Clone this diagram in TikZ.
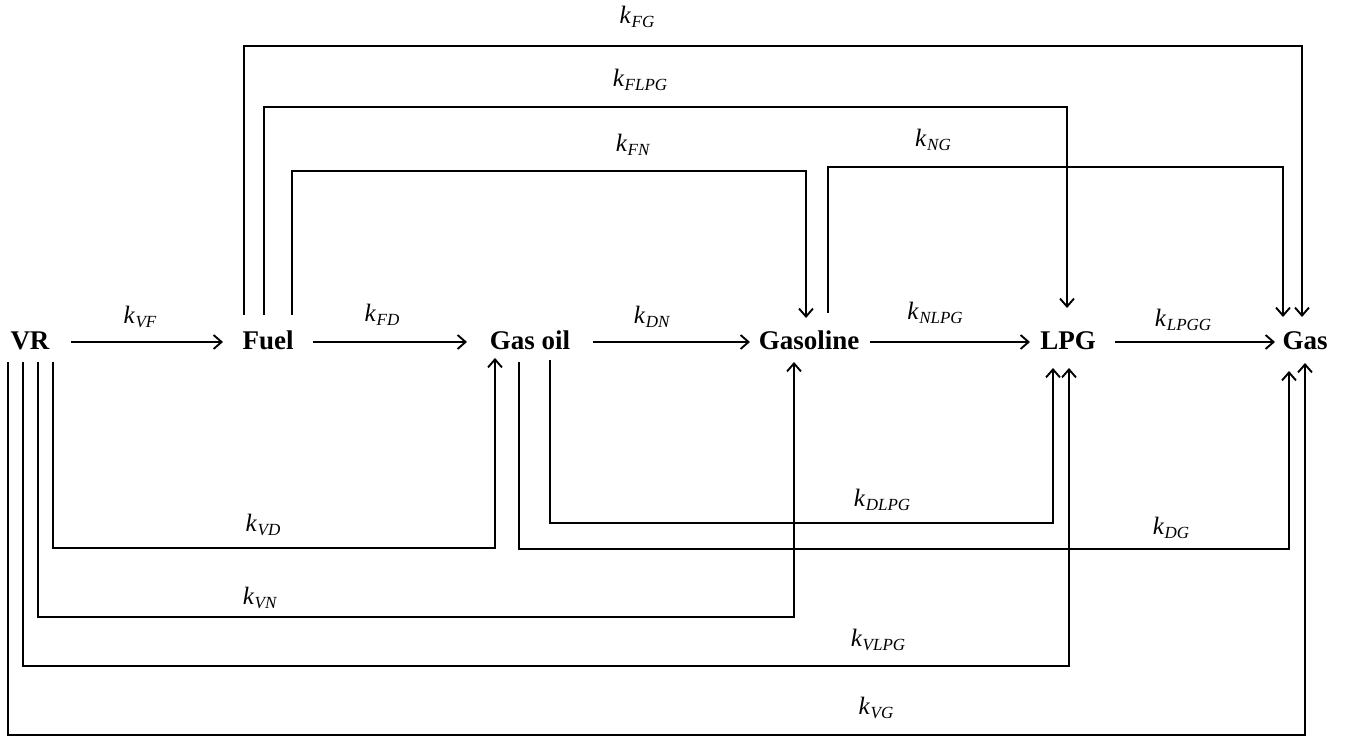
\documentclass[tikz,border=0pt]{standalone}
\usepackage{fontspec}
\setmainfont{Liberation Serif}
\usetikzlibrary{arrows.meta}
\newcommand{\kl}[1]{\textit{k}\kern0.5pt\raisebox{-4pt}{\fontsize{17}{17}\selectfont\textit{#1}}}
\begin{document}
\begin{tikzpicture}[x=1pt,y=1pt,
  species/.style={font=\fontsize{27}{27}\selectfont\bfseries, inner sep=0pt, anchor=base},
  rate/.style={font=\fontsize{25}{25}\selectfont, inner sep=0pt},
  flow/.style={line width=1.9pt, -{Straight Barb[length=8pt,width=14pt]}, line join=miter},
]
\useasboundingbox (0,0) rectangle (1347,738);
% species
\node[species] (VR) at (30,388) {VR};
\node[species] (Fuel) at (268,388) {Fuel};
\node[species] (Gasoil) at (530,388) {Gas oil};
\node[species] (Gasoline) at (809,388) {Gasoline};
\node[species] (LPG) at (1068,388) {LPG};
\node[species] (Gas) at (1305,388) {Gas};
% main row
\draw[flow] ([shift={(41,8)}]VR.base) -- ([shift={(-45,8)}]Fuel.base);
\draw[flow] ([shift={(45,8)}]Fuel.base) -- ([shift={(-63,8)}]Gasoil.base);
\draw[flow] ([shift={(63,8)}]Gasoil.base) -- ([shift={(-59,8)}]Gasoline.base);
\draw[flow] ([shift={(61,8)}]Gasoline.base) -- ([shift={(-38,8)}]LPG.base);
\draw[flow] ([shift={(47,8)}]LPG.base) -- ([shift={(-30,8)}]Gas.base);
\node[rate] (lVF) at (140,421) {\kl{VF}};
\node[rate] (lFD) at (382,423) {\kl{FD}};
\node[rate] (lDN) at (652,421) {\kl{DN}};
\node[rate] (lNLPG) at (935,425) {\kl{NLPG}};
\node[rate] (lLPGG) at (1183,418) {\kl{LPGG}};
% top connectors
\draw[flow] ([shift={(-24,35)}]Fuel.base) -- ([shift={(-24,304)}]Fuel.base) -| ([shift={(-3,33)}]Gas.base);
\draw[flow] ([shift={(-4,35)}]Fuel.base) -- ([shift={(-4,243)}]Fuel.base) -| ([shift={(-1,42)}]LPG.base);
\draw[flow] ([shift={(24,35)}]Fuel.base) -- ([shift={(24,179)}]Fuel.base) -| ([shift={(-3,32)}]Gasoline.base);
\draw[flow] ([shift={(19,37)}]Gasoline.base) -- ([shift={(19,183)}]Gasoline.base) -| ([shift={(-22,33)}]Gas.base);
\node[rate] (lFG) at (637,721) {\kl{FG}};
\node[rate] (lFLPG) at (640,658) {\kl{FLPG}};
\node[rate] (lFN) at (633,593) {\kl{FN}};
\node[rate] (lNG) at (933,598) {\kl{NG}};
% bottom connectors
\draw[flow] ([shift={(23,-12)}]VR.base) -- ([shift={(23,-198)}]VR.base) -| ([shift={(-35,-8)}]Gasoil.base);
\draw[flow] ([shift={(8,-12)}]VR.base) -- ([shift={(8,-267)}]VR.base) -| ([shift={(-15,-12)}]Gasoline.base);
\draw[flow] ([shift={(-7,-12)}]VR.base) -- ([shift={(-7,-316)}]VR.base) -| ([shift={(1,-18)}]LPG.base);
\draw[flow] ([shift={(-22,-12)}]VR.base) -- ([shift={(-22,-385)}]VR.base) -| ([shift={(0,-13)}]Gas.base);
\draw[flow] ([shift={(20,-10)}]Gasoil.base) -- ([shift={(20,-173)}]Gasoil.base) -| ([shift={(-15,-18)}]LPG.base);
\draw[flow] ([shift={(-11,-12)}]Gasoil.base) -- ([shift={(-11,-199)}]Gasoil.base) -| ([shift={(-16,-21)}]Gas.base);
\node[rate] (lVD) at (263,213) {\kl{VD}};
\node[rate] (lVN) at (260,140) {\kl{VN}};
\node[rate] (lVLPG) at (878,98) {\kl{VLPG}};
\node[rate] (lVG) at (876,30) {\kl{VG}};
\node[rate] (lDLPG) at (882,238) {\kl{DLPG}};
\node[rate] (lDG) at (1171,210) {\kl{DG}};
\end{tikzpicture}
\end{document}
